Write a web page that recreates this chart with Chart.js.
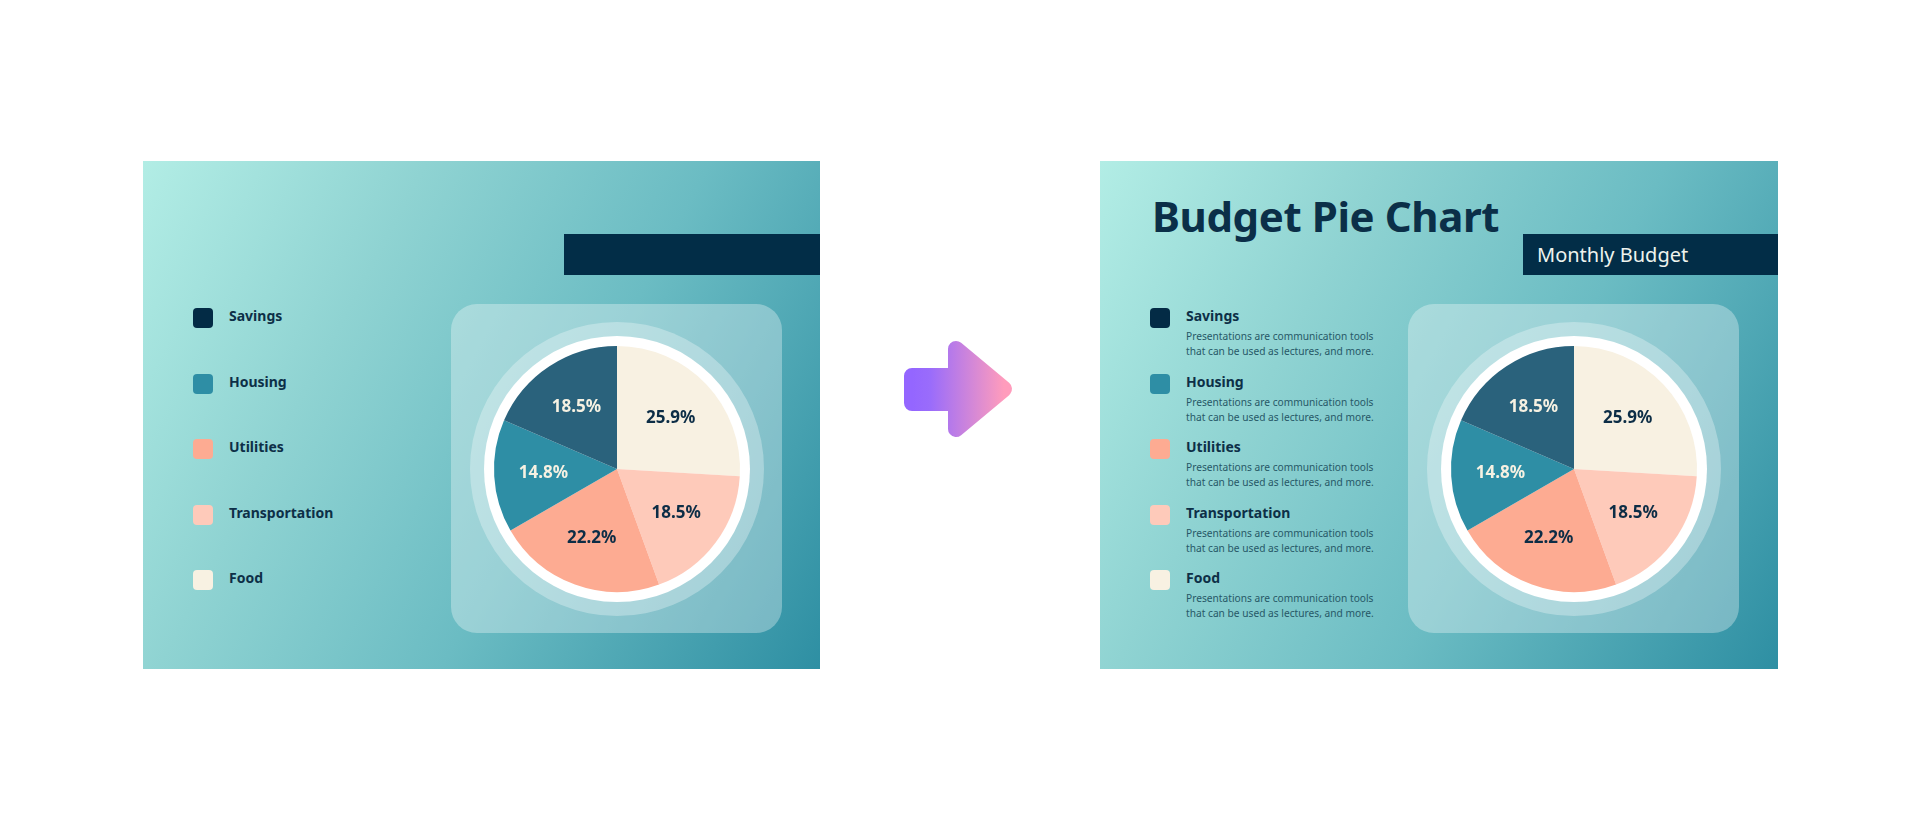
<!DOCTYPE html>
<html>
<head>
<meta charset="utf-8">
<script src="https://cdn.jsdelivr.net/npm/chart.js@4.4.1/dist/chart.umd.min.js"></script>
<style>
  html,body{margin:0;padding:0;background:#ffffff;}
  body{width:1920px;height:830px;position:relative;overflow:hidden;font-family:"Noto Sans",sans-serif;}
  .slide{position:absolute;top:161px;width:677px;height:508px;overflow:hidden;
    background:linear-gradient(118deg,#b2ede5 0%,#8fd3d2 30%,#6bbcc3 60%,#2e8fa3 100%);}
  .bar{position:absolute;left:421px;top:73px;right:0;height:41px;background:#022d47;}
  .bar span{position:absolute;left:14px;top:7px;font-size:20px;color:#eef3ee;font-weight:400;}
  .panel{position:absolute;left:308px;top:143px;width:331px;height:329px;border-radius:26px;background:rgba(255,255,255,0.32);}
  .pie{position:absolute;left:324px;top:158px;width:300px;height:300px;}
  .title{position:absolute;left:52px;top:26px;font-size:42px;font-weight:700;color:#0b2f48;letter-spacing:-0.4px;white-space:nowrap;}
  .item{position:absolute;left:50px;}
  .sw{position:absolute;left:0;top:0;width:20px;height:20px;border-radius:4px;}
  .lab{position:absolute;left:36px;top:-2px;font-size:14px;font-weight:700;color:#0d2f47;white-space:nowrap;}
  .desc{position:absolute;left:36px;top:21px;font-size:10.2px;line-height:15px;color:#275867;white-space:nowrap;}
  #arrow{position:absolute;left:896px;top:336px;}
</style>
</head>
<body>
<div class="slide" id="s1" style="left:143px;">
  <div class="bar"></div>
  <div class="panel"></div>
  <div class="pie"><canvas id="c1" width="300" height="300"></canvas></div>
</div>
<div class="slide" id="s2" style="left:1100px;width:678px;">
  <div class="title">Budget Pie Chart</div>
  <div class="bar" style="left:423px;"><span>Monthly Budget</span></div>
  <div class="panel"></div>
  <div class="pie"><canvas id="c2" width="300" height="300"></canvas></div>
</div>
<svg id="arrow" width="124" height="108" viewBox="0 0 124 108">
  <defs>
    <linearGradient id="ag" x1="0" y1="0" x2="1" y2="0">
      <stop offset="0" stop-color="#9466ff"/>
      <stop offset="0.2" stop-color="#9a6cfb"/>
      <stop offset="1" stop-color="#ff9cbc"/>
    </linearGradient>
  </defs>
  <polygon points="16,40 60,40 60,13 108,53 60,93 60,67 16,67"
    fill="url(#ag)" stroke="url(#ag)" stroke-width="16" stroke-linejoin="round"/>
</svg>
<script>
const categories = ['Food','Transportation','Utilities','Housing','Savings'];
const values = [700, 500, 600, 400, 500];
const sliceColors = ['#f8f1e2','#fecaba','#fdab92','#2e8ea5','#2a627c'];
const labelColors = ['#0c2d46','#0c2d46','#0c2d46','#f6f1e2','#f6f1e2'];
const description = ['Presentations are communication tools','that can be used as lectures, and more.'];

const total = values.reduce((a,b)=>a+b,0);
const percents = values.map(v => (v/total*100).toFixed(1) + '%');

const ringPlugin = {
  id:'ring',
  beforeDatasetsDraw(chart){
    const arc = chart.getDatasetMeta(0).data[0];
    if(!arc) return;
    const ctx = chart.ctx;
    const r = arc.outerRadius;
    ctx.save();
    ctx.beginPath(); ctx.arc(arc.x, arc.y, r+24, 0, Math.PI*2);
    ctx.fillStyle = 'rgba(255,255,255,0.30)'; ctx.fill();
    ctx.beginPath(); ctx.arc(arc.x, arc.y, r+10, 0, Math.PI*2);
    ctx.fillStyle = '#ffffff'; ctx.fill();
    ctx.restore();
  }
};
const labelPlugin = {
  id:'pctLabels',
  afterDatasetsDraw(chart){
    const ctx = chart.ctx;
    const meta = chart.getDatasetMeta(0);
    ctx.save();
    ctx.font = '700 17px "Noto Sans", sans-serif';
    ctx.textAlign = 'center';
    ctx.textBaseline = 'middle';
    meta.data.forEach((arc,i)=>{
      const mid = (arc.startAngle + arc.endAngle)/2;
      const rr = arc.outerRadius*0.6;
      ctx.fillStyle = labelColors[i];
      ctx.fillText(percents[i], arc.x + Math.cos(mid)*rr, arc.y + Math.sin(mid)*rr);
    });
    ctx.restore();
  }
};

function makePie(id){
  new Chart(document.getElementById(id), {
    type:'pie',
    data:{ labels:categories, datasets:[{ data:values, backgroundColor:sliceColors, borderWidth:0, hoverOffset:0 }] },
    options:{
      responsive:false, animation:false,
      layout:{padding:27},
      plugins:{ legend:{display:false}, tooltip:{enabled:false} },
      events:[]
    },
    plugins:[ringPlugin, labelPlugin]
  });
}
makePie('c1');
makePie('c2');

function makeLegend(slideId, withDesc){
  const slide = document.getElementById(slideId);
  const order = categories.map((c,i)=>i).reverse();
  order.forEach((idx,k)=>{
    const it = document.createElement('div');
    it.className = 'item';
    it.style.top = (147 + k*65.5) + 'px';
    const sw = document.createElement('div');
    sw.className = 'sw'; sw.style.background = idx===4 ? '#032b45' : sliceColors[idx];
    it.appendChild(sw);
    const lab = document.createElement('div');
    lab.className = 'lab'; lab.textContent = categories[idx];
    it.appendChild(lab);
    if(withDesc){
      const d = document.createElement('div');
      d.className = 'desc'; d.innerHTML = description.join('<br>');
      it.appendChild(d);
    }
    slide.appendChild(it);
  });
}
makeLegend('s1', false);
makeLegend('s2', true);
</script>
</body>
</html>
